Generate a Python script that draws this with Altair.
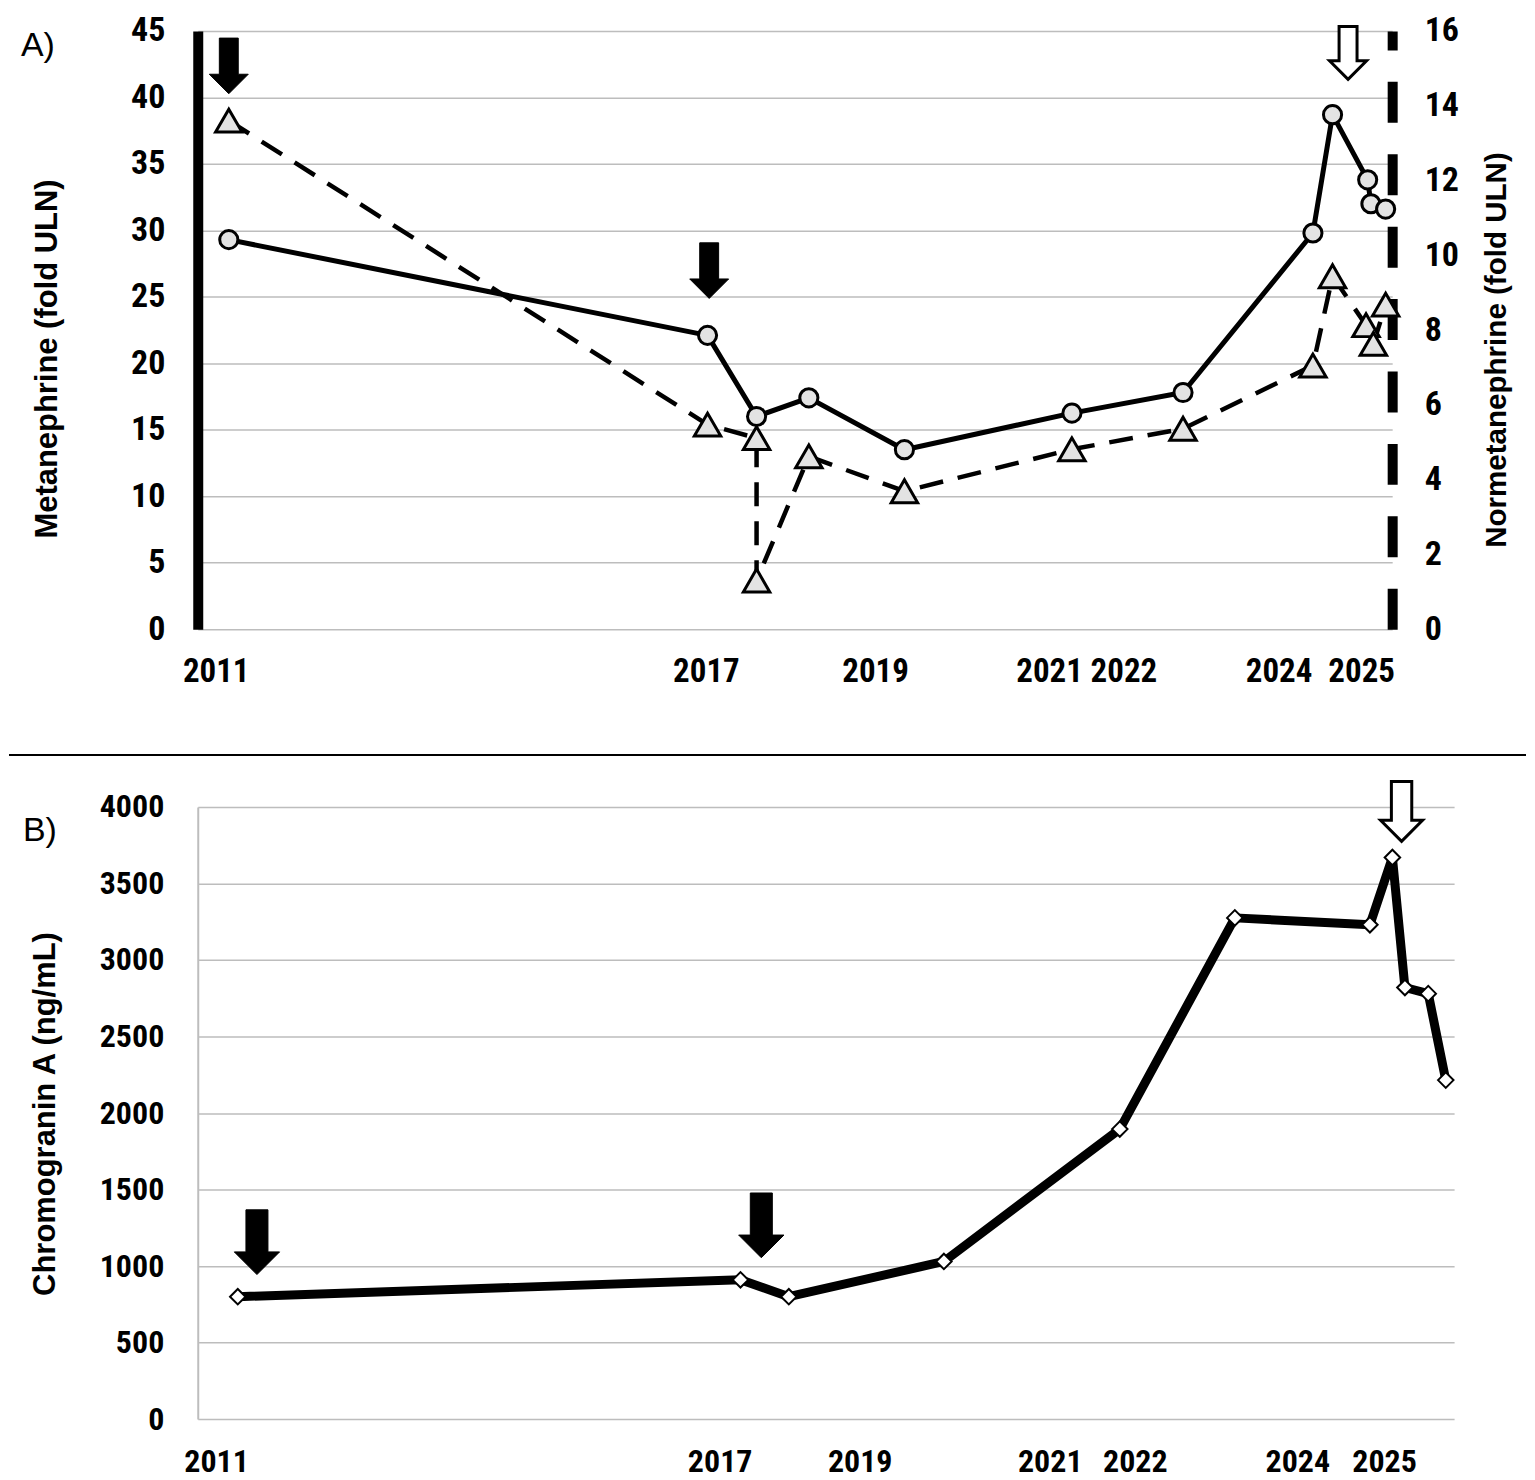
import altair as alt
import pandas as pd

# ---------------- Panel A data ----------------
met_year = [2011.16, 2017.02, 2017.62, 2018.26, 2019.43, 2021.48, 2022.84, 2024.43, 2024.67, 2025.10, 2025.14, 2025.32]
met_val = [29.3, 22.1, 16.0, 17.4, 13.5, 16.25, 17.8, 29.8, 38.7, 33.8, 32.0, 31.6]

nmet_year = [2011.16, 2017.02, 2017.62, 2017.62, 2018.26, 2019.43, 2021.48, 2022.84, 2024.43, 2024.67, 2025.08, 2025.17, 2025.32]
nmet_val = [13.6, 5.47, 5.11, 1.3, 4.62, 3.69, 4.81, 5.36, 7.05, 9.44, 8.13, 7.63, 8.68]

a_arrow_year = [2011.16, 2017.04]
a_arrow_val = [42.37, 26.97]
a_open_year = [2024.86]
a_open_val = [43.35]

a_tick_pos = [2011.0, 2017.0, 2019.07, 2021.2, 2022.11, 2024.01, 2025.02]
a_left_ticks = [0, 5, 10, 15, 20, 25, 30, 35, 40, 45]
a_right_ticks = [0, 2, 4, 6, 8, 10, 12, 14, 16]

# ---------------- Panel B data ----------------
cga_year = [2011.26, 2017.29, 2017.87, 2019.73, 2021.84, 2023.22, 2024.84, 2025.11, 2025.26, 2025.54, 2025.75]
cga_val = [800, 910, 800, 1030, 1895, 3275, 3230, 3670, 2820, 2780, 2215]

b_arrow_year = [2011.49, 2017.54]
b_arrow_val = [1156, 1266]
b_open_year = [2025.22]
b_open_val = [3971]

b_tick_pos = [2011.0, 2017.04, 2018.72, 2021.0, 2022.02, 2023.97, 2025.01]
b_y_ticks = [0, 500, 1000, 1500, 2000, 2500, 3000, 3500, 4000]

# ---------------- styling ----------------
NARROW = "Roboto Condensed, Liberation Sans Narrow, Arial Narrow, Liberation Sans, sans-serif"
SANS = "Liberation Sans, Arial, sans-serif"
GRID = "#bdbdbd"
FILL = "#e3e3e3"
ARROW = "M-0.34,-1L0.34,-1L0.34,0.3L0.7,0.3L0,1L-0.7,0.3L-0.34,0.3Z"
LABEL_EXPR = "format(round(datum.value), 'd')"

met = pd.DataFrame({"year": met_year, "v": met_val, "i": list(range(len(met_val)))})
nmet = pd.DataFrame({"year": nmet_year, "v": nmet_val, "i": list(range(len(nmet_val)))})
a_arr = pd.DataFrame({"year": a_arrow_year, "v": a_arrow_val})
a_open = pd.DataFrame({"year": a_open_year, "v": a_open_val})
cga = pd.DataFrame({"year": cga_year, "v": cga_val, "i": list(range(len(cga_val)))})
b_arr = pd.DataFrame({"year": b_arrow_year, "v": b_arrow_val})
b_open = pd.DataFrame({"year": b_open_year, "v": b_open_val})
lab_a = pd.DataFrame({"t": ["A)"]})
lab_b = pd.DataFrame({"t": ["B)"]})
one = pd.DataFrame({"k": [0]})

# ---------------- Panel A ----------------
xa = alt.X(
    "year:Q",
    title=None,
    scale=alt.Scale(domain=[2010.78, 2025.40], nice=False, zero=False),
    axis=alt.Axis(
        values=a_tick_pos, labelExpr=LABEL_EXPR, grid=False, domain=False, ticks=False,
        tickSize=0, labelPadding=26, labelFont=NARROW, labelFontSize=33, labelFontWeight="bold",
        labelColor="black", labelFlush=False, labelOverlap=False,
    ),
)

ya_left = alt.Y(
    "v:Q",
    scale=alt.Scale(domain=[0, 45], nice=False, zero=True),
    axis=alt.Axis(
        values=a_left_ticks, format="d", grid=True, gridColor=GRID, gridWidth=1.5,
        domain=True, domainColor="black", domainWidth=10, ticks=False, tickSize=0,
        labelPadding=33, labelFont=NARROW, labelFontSize=34, labelFontWeight="bold", labelColor="black",
        title="Metanephrine (fold ULN)", titleFont=SANS, titleFontSize=31, titleFontWeight="bold",
        titleColor="black", titleAngle=270, titleX=-150, titleY=328, titleBaseline="middle",
        titleAlign="center",
    ),
)

ya_right = alt.Y(
    "v:Q",
    scale=alt.Scale(domain=[0, 16], nice=False, zero=True),
    axis=alt.Axis(
        orient="right", values=a_right_ticks, format="d", grid=False,
        domain=True, domainColor="black", domainWidth=10, domainDash=[41, 31.5],
        ticks=False, tickSize=0, labelPadding=32, labelFont=NARROW, labelFontSize=34,
        labelFontWeight="bold", labelColor="black",
        title="Normetanephrine (fold ULN)", titleFont=SANS, titleFontSize=29.6, titleFontWeight="bold",
        titleColor="black", titleAngle=270, titleX=104, titleY=319, titleBaseline="middle",
        titleAlign="center",
    ),
)

met_line = alt.Chart(met).mark_line(color="black", strokeWidth=5, strokeJoin="round").encode(
    x=xa, y=ya_left, order="i:Q")
met_pts = alt.Chart(met).mark_point(
    shape="circle", filled=True, fill=FILL, stroke="black", strokeWidth=3, size=330, opacity=1
).encode(x=xa, y=ya_left)
a_arrows = alt.Chart(a_arr).mark_point(
    shape=ARROW, filled=True, fill="black", stroke="black", strokeWidth=1, size=3100, opacity=1
).encode(x=xa, y=ya_left)
a_open_arr = alt.Chart(a_open).mark_point(
    shape=ARROW, filled=True, fill="white", stroke="black", strokeWidth=3, size=2800, opacity=1
).encode(x=xa, y=ya_left)
divider = alt.Chart(one).mark_rule(color="black", strokeWidth=2).encode(
    x=alt.value(-189), x2=alt.value(1330), y=alt.value(725))
a_label = alt.Chart(lab_a).mark_text(
    align="left", baseline="alphabetic", font=SANS, fontSize=34, color="black"
).encode(text="t:N", x=alt.value(-177), y=alt.value(25))

left_group = alt.layer(met_line, met_pts, a_arrows, a_open_arr, divider, a_label)

nmet_line = alt.Chart(nmet).mark_line(
    color="black", strokeWidth=4.5, strokeDash=[24, 15], strokeJoin="round"
).encode(x=xa, y=ya_right, order="i:Q")
nmet_pts = alt.Chart(nmet).mark_point(
    shape="triangle-up", filled=True, fill=FILL, stroke="black", strokeWidth=3, size=700, opacity=1
).encode(x=xa, y=ya_right)

right_group = alt.layer(nmet_line, nmet_pts)

panel_a = alt.layer(left_group, right_group).resolve_scale(y="independent").properties(
    width=1196, height=599)

# ---------------- Panel B ----------------
xb = alt.X(
    "year:Q",
    title=None,
    scale=alt.Scale(domain=[2010.78, 2025.85], nice=False, zero=False),
    axis=alt.Axis(
        values=b_tick_pos, labelExpr=LABEL_EXPR, grid=False, domain=False, ticks=False,
        tickSize=0, labelPadding=27, labelFont=NARROW, labelFontSize=32, labelFontWeight="bold",
        labelColor="black", labelFlush=False, labelOverlap=False,
    ),
)
yb = alt.Y(
    "v:Q",
    scale=alt.Scale(domain=[0, 4000], nice=False, zero=True),
    axis=alt.Axis(
        values=b_y_ticks, format="d", grid=True, gridColor=GRID, gridWidth=1.5,
        domain=True, domainColor=GRID, domainWidth=2, ticks=False, tickSize=0,
        labelPadding=34, labelFont=NARROW, labelFontSize=32, labelFontWeight="bold", labelColor="black",
        title="Chromogranin A (ng/mL)", titleFont=SANS, titleFontSize=31, titleFontWeight="bold",
        titleColor="black", titleAngle=270, titleX=-152, titleY=307, titleBaseline="middle",
        titleAlign="center",
    ),
)

cga_line = alt.Chart(cga).mark_line(color="black", strokeWidth=9, strokeJoin="round").encode(
    x=xb, y=yb, order="i:Q")
cga_pts = alt.Chart(cga).mark_point(
    shape="diamond", filled=True, fill="white", stroke="black", strokeWidth=2, size=240, opacity=1
).encode(x=xb, y=yb)
b_arrows = alt.Chart(b_arr).mark_point(
    shape=ARROW, filled=True, fill="black", stroke="black", strokeWidth=1, size=4200, opacity=1
).encode(x=xb, y=yb)
b_open_arr = alt.Chart(b_open).mark_point(
    shape=ARROW, filled=True, fill="white", stroke="black", strokeWidth=3, size=3600, opacity=1
).encode(x=xb, y=yb)
b_label = alt.Chart(lab_b).mark_text(
    align="left", baseline="alphabetic", font=SANS, fontSize=34, color="black"
).encode(text="t:N", x=alt.value(-175), y=alt.value(34))
b_helper = alt.Chart(one).mark_rule(color="white", strokeWidth=1).encode(
    x=alt.value(-189), x2=alt.value(-186), y=alt.value(300))

panel_b = alt.layer(cga_line, cga_pts, b_arrows, b_open_arr, b_label, b_helper).properties(
    width=1258, height=613)

chart = alt.vconcat(panel_a, panel_b, spacing=19).properties(
    padding={"left": 0, "top": 5, "right": 0, "bottom": 3}
).configure_view(stroke=None)

chart.save("out.html", embed_options={"renderer": "svg", "actions": False})
